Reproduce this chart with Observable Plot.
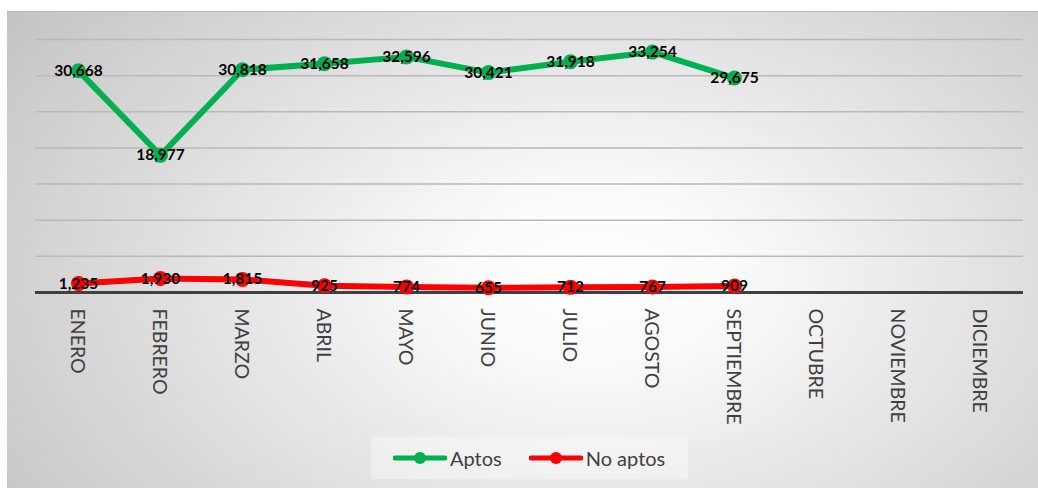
<!DOCTYPE html>
<html><head><meta charset="utf-8">
<script src="https://cdn.jsdelivr.net/npm/d3@7"></script>
<script src="https://cdn.jsdelivr.net/npm/@observablehq/plot@0.6"></script>
<style>
html,body{margin:0;padding:0;background:#fff;}
#wrap{position:relative;width:1038px;height:489px;overflow:hidden;font-family:Lato,sans-serif;}
#bg{position:absolute;left:7px;top:11px;width:1031px;height:476px;
  background:radial-gradient(ellipse 70% 95% at 57% 56%, #ffffff 0%, #fbfbfb 18%, #c4c4c4 100%);
  border-top:1px solid #b8b8b8;}
#chart{position:absolute;left:0;top:0;}
#legend{position:absolute;left:371px;top:437px;width:317px;height:42px;background:rgba(255,255,255,0.35);
  display:flex;align-items:center;padding-left:22px;box-sizing:border-box;font-size:20px;color:#404040;white-space:nowrap;}
.item{display:flex;align-items:center;margin-right:27px;flex-shrink:0;white-space:nowrap;}
.item svg{display:block;margin-right:3px;flex-shrink:0;}
</style></head><body>
<div id="wrap"><div id="bg"></div><div id="chart"></div><div id="legend"></div></div>
<script>
const months = ["ENERO","FEBRERO","MARZO","ABRIL","MAYO","JUNIO","JULIO","AGOSTO","SEPTIEMBRE","OCTUBRE","NOVIEMBRE","DICIEMBRE"];
const aptos = [30668, 18977, 30818, 31658, 32596, 30421, 31918, 33254, 29675];
const noAptos = [1235, 1930, 1815, 925, 774, 655, 712, 767, 909];
const gridTicks = [5000, 10000, 15000, 20000, 25000, 30000, 35000];
const seriesNames = ["Aptos", "No aptos"];
const seriesColors = ["#00B050", "#FF0000"];

const rows = [
  ...aptos.map((v, i) => ({month: months[i], value: v, series: seriesNames[0]})),
  ...noAptos.map((v, i) => ({month: months[i], value: v, series: seriesNames[1]}))
];
const fmt = d3.format(",");

const chart = Plot.plot({
  width: 1038,
  height: 489,
  marginLeft: 35,
  marginRight: 15,
  marginTop: 39,
  marginBottom: 197,
  style: {background: "transparent", fontFamily: "Lato, sans-serif"},
  x: {type: "point", domain: months, padding: 0.5, axis: null},
  y: {domain: [0, 35000], axis: null},
  color: {domain: seriesNames, range: seriesColors},
  marks: [
    Plot.ruleY(gridTicks, {stroke: "#b9b9b9", strokeWidth: 1.5}),
    Plot.ruleY([0], {stroke: "#404040", strokeWidth: 3}),
    Plot.line(rows, {x: "month", y: "value", z: "series", stroke: "series", strokeWidth: 6, strokeLinejoin: "round", strokeLinecap: "round"}),
    Plot.dot(rows, {x: "month", y: "value", fill: "series", r: 7.5}),
    Plot.text(rows, {x: "month", y: "value", text: d => fmt(d.value), fill: "#000", fontWeight: "bold", fontSize: 15.5, dy: 0}),
    Plot.text(months, {x: d => d, frameAnchor: "bottom", rotate: 90, textAnchor: "start", dx: -8, dy: 16, fontSize: 19.5, fill: "#404040"})
  ]
});
document.getElementById("chart").appendChild(chart);

const legend = document.getElementById("legend");
seriesNames.forEach((name, i) => {
  const item = document.createElement("div");
  item.className = "item";
  item.innerHTML = `<svg width="54" height="14"><line x1="2" y1="7" x2="52" y2="7" stroke="${seriesColors[i]}" stroke-width="5" stroke-linecap="round"/><circle cx="27" cy="7" r="6" fill="${seriesColors[i]}"/></svg><span>${name}</span>`;
  legend.appendChild(item);
});
</script>
</body></html>
